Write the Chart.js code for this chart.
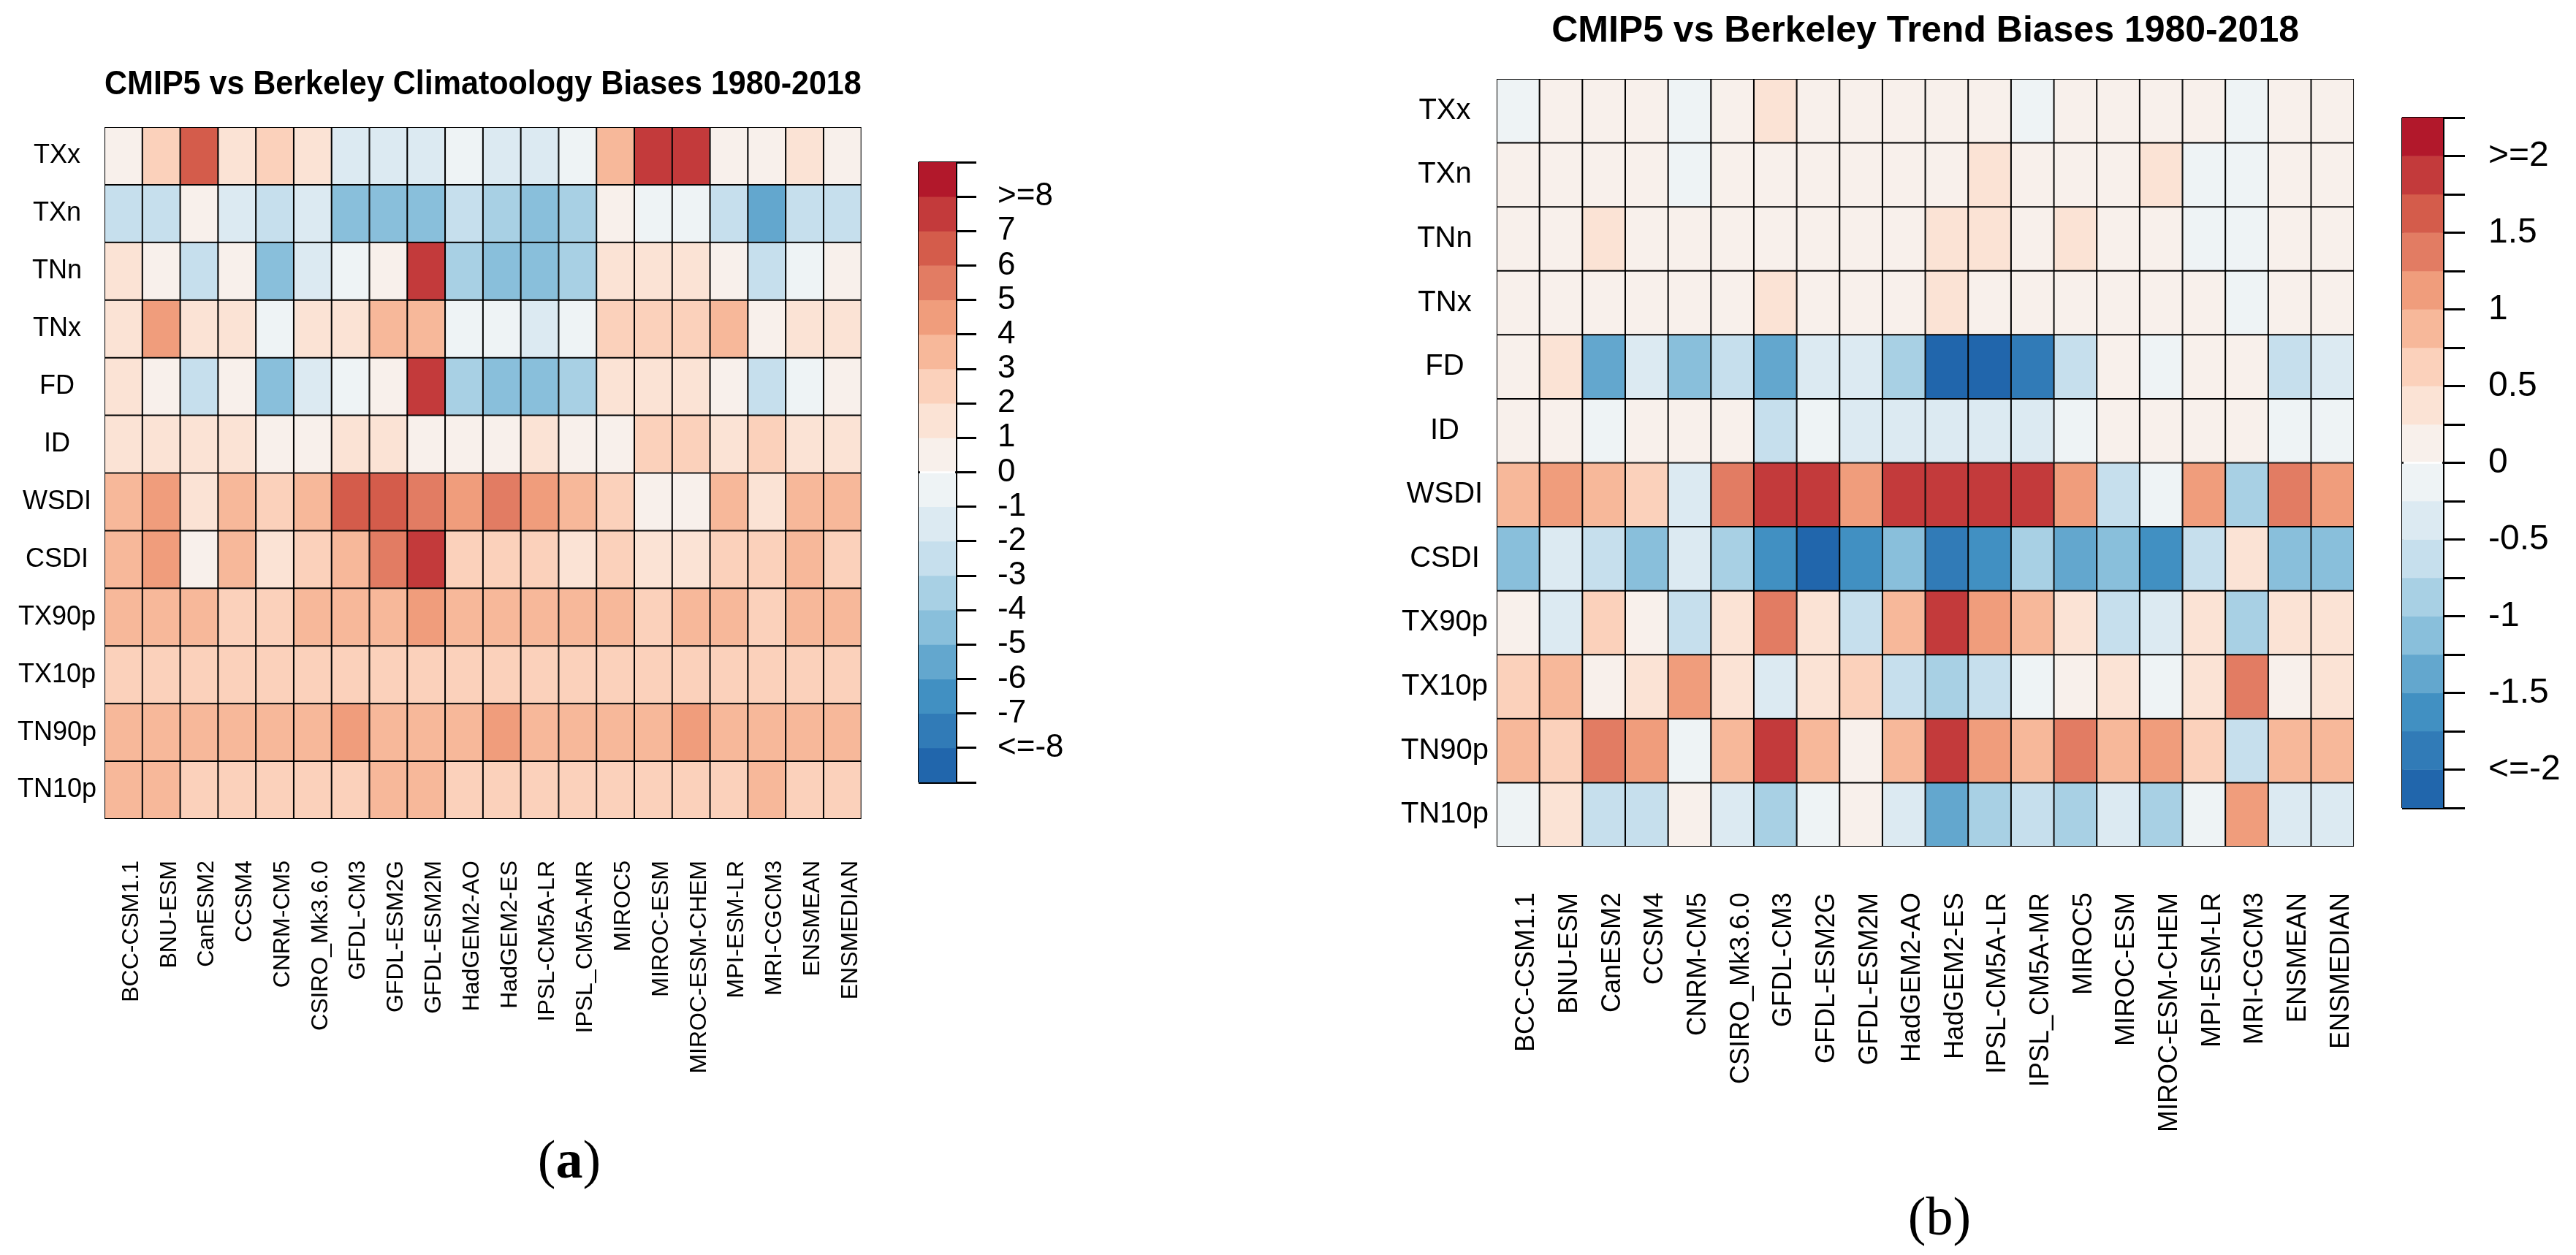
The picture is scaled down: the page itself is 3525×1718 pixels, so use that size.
<!DOCTYPE html>
<html>
<head>
<meta charset="utf-8">
<script src="https://cdn.jsdelivr.net/npm/chart.js@4.4.1/dist/chart.umd.min.js"></script>
<style>
  body { margin: 0; background: #fff; width: 3525px; height: 1718px; position: relative; overflow: hidden; }
  canvas { position: absolute; }
  .tag { position: absolute; font-family: 'Liberation Serif', serif; font-size: 74px; color: #000; transform: translate(-50%, -50%); line-height: 1; }
</style>
</head>
<body>
<canvas id="climChart" width="1250" height="1718" style="left:0;top:0"></canvas>
<canvas id="climBar" width="300" height="1718" style="left:1200px;top:0"></canvas>
<canvas id="trendChart" width="1500" height="1718" style="left:1800px;top:0"></canvas>
<canvas id="trendBar" width="255" height="1718" style="left:3270px;top:0"></canvas>
<div class="tag" style="left:779px;top:1587px">(<b>a</b>)</div>
<div class="tag" style="left:2654px;top:1665px">(b)</div>
<script>
const models = ['BCC-CSM1.1', 'BNU-ESM', 'CanESM2', 'CCSM4', 'CNRM-CM5', 'CSIRO_Mk3.6.0', 'GFDL-CM3',
    'GFDL-ESM2G', 'GFDL-ESM2M', 'HadGEM2-AO', 'HadGEM2-ES', 'IPSL-CM5A-LR', 'IPSL_CM5A-MR', 'MIROC5',
    'MIROC-ESM', 'MIROC-ESM-CHEM', 'MPI-ESM-LR', 'MRI-CGCM3', 'ENSMEAN', 'ENSMEDIAN'];
const indices = ['TXx', 'TXn', 'TNn', 'TNx', 'FD', 'ID', 'WSDI', 'CSDI', 'TX90p', 'TX10p', 'TN90p', 'TN10p'];

// climatology biases, one row per index (same order as indices)
const climBias = [
    [0.5, 2.5, 6.5, 1.5, 2.5, 1.5, -1.5, -1.5, -1.5, -0.5, -1.5, -1.5, -0.5, 3.5, 7.5, 7.5, 0.5, 0.5, 1.5, 0.5],
    [-2.5, -2.5, 0.5, -1.5, -2.5, -1.5, -4.5, -4.5, -4.5, -2.5, -3.5, -4.5, -3.5, 0.5, -0.5, -0.5, -2.5, -5.5, -2.5, -2.5],
    [1.5, 0.5, -2.5, 0.5, -4.5, -1.5, -0.5, 0.5, 7.5, -3.5, -4.5, -4.5, -3.5, 1.5, 1.5, 1.5, 0.5, -2.5, -0.5, 0.5],
    [1.5, 4.5, 1.5, 1.5, -0.5, 1.5, 1.5, 3.5, 3.5, -0.5, -0.5, -1.5, -0.5, 2.5, 2.5, 2.5, 3.5, 0.5, 1.5, 1.5],
    [1.5, 0.5, -2.5, 0.5, -4.5, -1.5, -0.5, 0.5, 7.5, -3.5, -4.5, -4.5, -3.5, 1.5, 1.5, 1.5, 0.5, -2.5, -0.5, 0.5],
    [1.5, 1.5, 1.5, 1.5, 0.5, 0.5, 1.5, 1.5, 0.5, 0.5, 0.5, 1.5, 0.5, 0.5, 2.5, 2.5, 1.5, 2.5, 1.5, 1.5],
    [3.5, 4.5, 1.5, 3.5, 2.5, 3.5, 6.5, 6.5, 5.5, 4.5, 5.5, 4.5, 3.5, 2.5, 0.5, 0.5, 3.5, 1.5, 3.5, 3.5],
    [3.5, 4.5, 0.5, 3.5, 1.5, 2.5, 3.5, 5.5, 7.5, 2.5, 2.5, 2.5, 1.5, 2.5, 1.5, 1.5, 2.5, 2.5, 3.5, 2.5],
    [3.5, 3.5, 3.5, 2.5, 2.5, 3.5, 3.5, 3.5, 4.5, 3.5, 3.5, 3.5, 3.5, 3.5, 2.5, 3.5, 3.5, 2.5, 3.5, 3.5],
    [2.5, 2.5, 2.5, 2.5, 2.5, 2.5, 2.5, 2.5, 2.5, 2.5, 2.5, 2.5, 2.5, 2.5, 2.5, 2.5, 2.5, 2.5, 2.5, 2.5],
    [3.5, 3.5, 3.5, 3.5, 3.5, 3.5, 4.5, 3.5, 3.5, 3.5, 4.5, 3.5, 3.5, 3.5, 3.5, 4.5, 3.5, 3.5, 3.5, 3.5],
    [3.5, 3.5, 2.5, 2.5, 2.5, 2.5, 2.5, 3.5, 3.5, 2.5, 2.5, 2.5, 2.5, 2.5, 2.5, 2.5, 2.5, 3.5, 2.5, 2.5]
];

// trend biases
const trendBias = [
    [-0.1, 0.1, 0.1, 0.1, -0.1, 0.1, 0.4, 0.1, 0.1, 0.1, 0.1, 0.1, -0.1, 0.1, 0.1, 0.1, 0.1, -0.1, 0.1, 0.1],
    [0.1, 0.1, 0.1, 0.1, -0.1, 0.1, 0.1, 0.1, 0.1, 0.1, 0.1, 0.4, 0.1, 0.1, 0.1, 0.4, -0.1, -0.1, 0.1, 0.1],
    [0.1, 0.1, 0.4, 0.1, 0.1, 0.1, 0.1, 0.1, 0.1, 0.1, 0.4, 0.4, 0.1, 0.4, 0.1, 0.1, -0.1, -0.1, 0.1, 0.1],
    [0.1, 0.1, 0.1, 0.1, 0.1, 0.1, 0.4, 0.1, 0.1, 0.1, 0.4, 0.1, 0.1, 0.1, 0.1, 0.1, 0.1, -0.1, 0.1, 0.1],
    [0.1, 0.4, -1.4, -0.4, -1.1, -0.6, -1.4, -0.4, -0.4, -0.9, -2.1, -2.1, -1.9, -0.6, 0.1, -0.1, 0.1, 0.1, -0.6, -0.4],
    [0.1, 0.1, -0.1, 0.1, 0.1, 0.1, -0.6, -0.1, -0.4, -0.4, -0.4, -0.4, -0.4, -0.1, 0.1, 0.1, 0.1, 0.1, -0.1, -0.1],
    [0.9, 1.1, 0.9, 0.6, -0.4, 1.4, 1.9, 1.9, 1.1, 1.9, 1.9, 1.9, 1.9, 1.1, -0.6, -0.1, 1.1, -0.9, 1.4, 1.1],
    [-1.1, -0.4, -0.6, -1.1, -0.4, -0.9, -1.6, -2.1, -1.6, -1.1, -1.9, -1.6, -0.9, -1.4, -1.1, -1.6, -0.6, 0.4, -1.1, -1.1],
    [0.1, -0.4, 0.6, 0.1, -0.6, 0.4, 1.4, 0.4, -0.6, 0.9, 1.9, 1.1, 0.9, 0.4, -0.6, -0.4, 0.4, -0.9, 0.4, 0.4],
    [0.6, 0.9, 0.1, 0.4, 1.1, 0.4, -0.4, 0.4, 0.6, -0.6, -0.9, -0.6, -0.1, 0.1, 0.4, -0.1, 0.4, 1.4, 0.1, 0.4],
    [0.9, 0.6, 1.4, 1.1, -0.1, 0.9, 1.9, 0.9, 0.1, 0.9, 1.9, 1.1, 0.9, 1.4, 0.9, 1.1, 0.6, -0.6, 0.9, 0.9],
    [-0.1, 0.4, -0.6, -0.6, 0.1, -0.4, -0.9, -0.1, 0.1, -0.4, -1.4, -0.9, -0.6, -0.9, -0.4, -0.9, -0.1, 1.1, -0.4, -0.4]
];

const climTickValues = [8, 7, 6, 5, 4, 3, 2, 1, 0, -1, -2, -3, -4, -5, -6, -7, -8];
const climTickLabels = ['>=8', '7', '6', '5', '4', '3', '2', '1', '0', '-1', '-2', '-3', '-4', '-5', '-6', '-7', '<=-8'];
const trendTickValues = [2, 1.5, 1, 0.5, 0, -0.5, -1, -1.5, -2];
const trendTickLabels = ['>=2', '1.5', '1', '0.5', '0', '-0.5', '-1', '-1.5', '<=-2'];

// 18 binned colours, top (red) to bottom (blue)
const palette = ['#B2182B', '#C33A3B', '#D45C4B', '#E27C63', '#F09D7C', '#F7B89A', '#FBD1BB', '#FBE3D5', '#F8F0EB',
    '#EEF3F5', '#DCEAF2', '#C6DFED', '#A8D0E4', '#89BFDB', '#63A7CE', '#4190C2', '#317BB7', '#2166AC'];

const FONT = "'Liberation Sans', Arial, sans-serif";

function binColor(v, top, step) {
    if (v >= top) return palette[0];
    const k = Math.floor((top - v) / step) + 1;
    return palette[Math.min(k, palette.length - 1)];
}

function heatmap(id, values, top, step, cfg) {
    const ctx = document.getElementById(id);
    return new Chart(ctx, {
        type: 'bar',
        data: {
            labels: models,
            datasets: indices.map((name, i) => ({
                label: name,
                data: values[i].map(() => [i, i + 1]),
                backgroundColor: values[i].map(v => binColor(v, top, step)),
                borderColor: '#000',
                borderWidth: 1.35,
                borderSkipped: false,
                barPercentage: 1,
                categoryPercentage: 1,
                grouped: false
            }))
        },
        options: {
            responsive: false,
            animation: false,
            devicePixelRatio: 1,
            layout: { padding: { top: 0, left: 0, right: cfg.padRight, bottom: 0 } },
            plugins: {
                legend: { display: false },
                tooltip: { enabled: false },
                title: {
                    display: true,
                    text: cfg.title,
                    fullSize: false,
                    color: '#000',
                    font: { family: FONT, size: cfg.titleSize, weight: 'bold', lineHeight: 1.2 },
                    padding: { top: cfg.titleTop, bottom: cfg.titleBottom }
                }
            },
            scales: {
                x: {
                    type: 'category',
                    grid: { display: false, drawTicks: false },
                    border: { display: false },
                    ticks: {
                        autoSkip: false,
                        maxRotation: 90,
                        minRotation: 90,
                        padding: cfg.xPad,
                        labelOffset: cfg.xShift,
                        color: '#000',
                        font: { family: FONT, size: cfg.xFont }
                    },
                    afterFit: s => { s.height = cfg.xHeight; }
                },
                y: {
                    type: 'linear',
                    reverse: true,
                    min: 0,
                    max: indices.length,
                    grid: { display: false, drawTicks: false },
                    border: { display: false },
                    afterBuildTicks: s => { s.ticks = indices.map((n, i) => ({ value: i + 0.5 })); },
                    ticks: {
                        autoSkip: false,
                        crossAlign: 'center',
                        padding: 11,
                        color: '#000',
                        font: { family: FONT, size: cfg.yFont },
                        callback: (v, i) => indices[i]
                    },
                    afterFit: s => { s.width = cfg.yWidth; }
                }
            }
        }
    });
}

function colorbar(id, top, step, tickValues, tickLabels, cfg) {
    const ctx = document.getElementById(id);
    const lo = top - (palette.length - 1) * step;
    const hi = top + step;
    return new Chart(ctx, {
        type: 'bar',
        data: {
            labels: [''],
            datasets: palette.map((c, k) => ({
                data: [[top - k * step, top - (k - 1) * step]],
                backgroundColor: c,
                borderWidth: 0,
                barPercentage: 1,
                categoryPercentage: 1,
                grouped: false
            }))
        },
        options: {
            responsive: false,
            animation: false,
            devicePixelRatio: 1,
            layout: { padding: { left: cfg.left, top: cfg.top, bottom: cfg.bottom, right: 0 } },
            plugins: { legend: { display: false }, tooltip: { enabled: false }, title: { display: false } },
            scales: {
                x: {
                    type: 'category',
                    z: 1,
                    ticks: { display: false },
                    border: { display: false },
                    grid: { display: true, offset: true, color: '#000', lineWidth: 3, drawTicks: false },
                    afterFit: s => { s.height = 0; }
                },
                y: {
                    type: 'linear',
                    position: 'right',
                    min: lo,
                    max: hi,
                    z: 1,
                    border: { display: false },
                    grid: {
                        drawOnChartArea: true,
                        color: c => (c.tick && (Math.abs(c.tick.value - lo) < 1e-6 || Math.abs(c.tick.value - hi) < 1e-6)) ? '#000' : 'rgba(0,0,0,0)',
                        tickColor: '#000',
                        lineWidth: 3,
                        tickLength: cfg.tickLength
                    },
                    ticks: {
                        stepSize: step,
                        autoSkip: false,
                        padding: cfg.tickPad,
                        color: '#000',
                        font: { family: FONT, size: cfg.font },
                        callback: v => {
                            const i = tickValues.findIndex(t => Math.abs(t - v) < 1e-6);
                            return i >= 0 ? tickLabels[i] : '';
                        }
                    },
                    afterFit: s => { s.width = cfg.axisWidth; }
                }
            }
        }
    });
}

heatmap('climChart', climBias, 8, 1, {
    title: 'CMIP5 vs Berkeley Climatoology Biases 1980-2018',
    titleSize: 47, titleTop: 87.5, titleBottom: 30.1,
    padRight: 17, yWidth: 143, xHeight: 597, xPad: 57, xShift: 11, xFont: 32, yFont: 36
});
colorbar('climBar', 8, 1, climTickValues, climTickLabels, {
    left: 57, top: 222, bottom: 647, axisWidth: 192, tickLength: 28, tickPad: 29, font: 44
});

heatmap('trendChart', trendBias, 2, 0.25, {
    title: 'CMIP5 vs Berkeley Trend Biases 1980-2018',
    titleSize: 50, titleTop: 13.7, titleBottom: 34.3,
    padRight: 41, yWidth: 248, xHeight: 559, xPad: 63, xShift: 12, xFont: 36, yFont: 40
});
colorbar('trendBar', 2, 0.25, trendTickValues, trendTickLabels, {
    left: 17, top: 161, bottom: 612, axisWidth: 182, tickLength: 30, tickPad: 32, font: 48
});
</script>
</body>
</html>
